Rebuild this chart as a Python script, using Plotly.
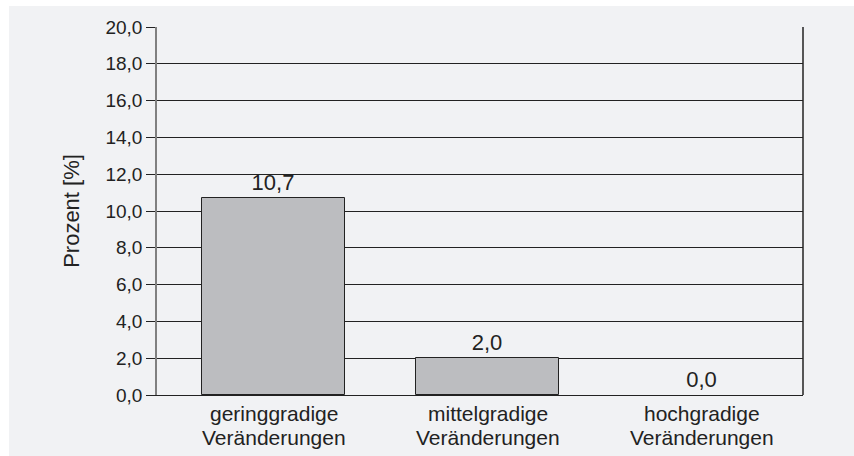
import plotly.graph_objects as go

categories = ["geringgradige Veränderungen", "mittelgradige Veränderungen", "hochgradige Veränderungen"]
label_line1 = ["geringgradige", "mittelgradige", "hochgradige"]
label_line2 = ["Veränderungen", "Veränderungen", "Veränderungen"]
values = [10.7, 2.0, 0.0]
value_labels = ["10,7", "2,0", "0,0"]
tick_vals = [0, 2, 4, 6, 8, 10, 12, 14, 16, 18, 20]
tick_text = ["0,0", "2,0", "4,0", "6,0", "8,0", "10,0", "12,0", "14,0", "16,0", "18,0", "20,0"]

W, H = 854, 456
L, R, T, B = 157, 51, 27, 61
pw, ph = W - L - R, H - T - B

FONT = "Liberation Sans, Arial, sans-serif"
INK = "#222222"
FS_TICK = 19
FS_BIG = 22
FS_CAT = 21

fig = go.Figure()
fig.add_trace(go.Bar(
    x=categories, y=values, width=0.668,
    marker=dict(color="#bcbdc0",
                line=dict(color=INK, width=[1 if v > 0 else 0 for v in values])),
    text=value_labels, textposition="outside", cliponaxis=False,
    textfont=dict(family=FONT, size=FS_BIG, color=INK),
))

annotations = []
for cat, l1, l2 in zip(categories, label_line1, label_line2):
    annotations.append(dict(x=cat, y=0, xref="x", yref="y", text=l1, showarrow=False,
                            yanchor="middle", yshift=-18,
                            font=dict(family=FONT, size=FS_CAT, color=INK)))
    annotations.append(dict(x=cat, y=0, xref="x", yref="y", text=l2, showarrow=False,
                            yanchor="middle", yshift=-42,
                            font=dict(family=FONT, size=FS_CAT, color=INK)))

fig.update_layout(
    width=W, height=H,
    margin=dict(l=L, r=R, t=T, b=B, pad=0),
    paper_bgcolor="white", plot_bgcolor="white",
    showlegend=False, bargap=0,
    font=dict(family=FONT, size=FS_TICK, color=INK),
    xaxis=dict(type="category", range=[-0.5444, 2.474], showgrid=False, ticks="",
               showticklabels=False,
               showline=True, linecolor=INK, linewidth=1,
               fixedrange=True, automargin=False),
    yaxis=dict(range=[0, 20], tickvals=tick_vals, ticktext=tick_text,
               showgrid=True, gridcolor=INK, gridwidth=1, zeroline=False,
               showline=True, linecolor="#808080", linewidth=1.5,
               ticks="outside", ticklen=9, tickcolor=INK, tickwidth=1,
               tickfont=dict(size=FS_TICK, color=INK), ticklabelstandoff=0,
               title=dict(text="Prozent [%]", font=dict(size=FS_BIG, color=INK), standoff=20),
               fixedrange=True, automargin=False),
    annotations=annotations,
    shapes=[
        dict(type="rect", xref="paper", yref="paper", layer="below",
             x0=(9 - L) / pw, x1=(W - L) / pw,
             y0=-B / ph, y1=1 + (T - 6) / ph,
             fillcolor="#f1f2f4", line=dict(width=0)),
        dict(type="line", xref="paper", yref="paper", x0=1, x1=1, y0=0, y1=1,
             line=dict(color=INK, width=1.5)),
    ],
)

fig.write_html("out.html", config={"displayModeBar": False},
               post_script="document.body.style.margin='0';document.body.style.padding='0';")
